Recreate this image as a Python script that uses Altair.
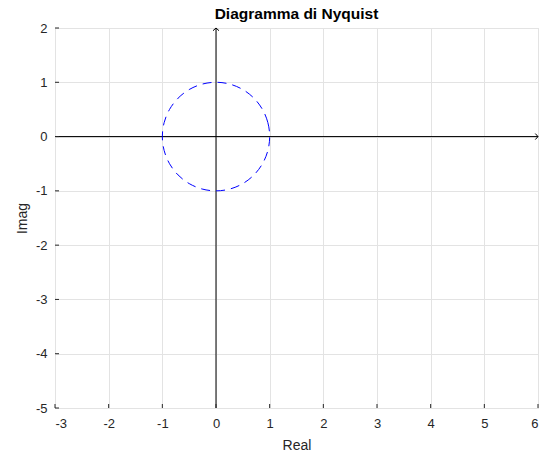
import altair as alt
import pandas as pd

# Nyquist locus (unit circle), sampled every 15 degrees
re_vals = [1.0, 0.966, 0.866, 0.707, 0.5, 0.259, 0.0, -0.259, -0.5, -0.707, -0.866, -0.966,
           -1.0, -0.966, -0.866, -0.707, -0.5, -0.259, 0.0, 0.259, 0.5, 0.707, 0.866, 0.966]
im_vals = [0.0, 0.259, 0.5, 0.707, 0.866, 0.966, 1.0, 0.966, 0.866, 0.707, 0.5, 0.259,
           0.0, -0.259, -0.5, -0.707, -0.866, -0.966, -1.0, -0.966, -0.866, -0.707, -0.5, -0.259]

x_ticks = [-3, -2, -1, 0, 1, 2, 3, 4, 5, 6]
y_ticks = [-5, -4, -3, -2, -1, 0, 1, 2]
x_range = [-3, 6]
y_range = [-5, 2]

W, H = 483, 380
FONT = "Liberation Sans"
INK = "#262626"

xs = alt.Scale(domain=x_range, nice=False, zero=False)
ys = alt.Scale(domain=y_range, nice=False, zero=False)

# plain hyphen-minus in the tick labels
LABEL = "'' + datum.value"

x_axis = alt.Axis(values=x_ticks, grid=True, gridColor="#e3e3e3", ticks=False, domain=False,
                  labelFont=FONT, labelFontSize=13, labelColor=INK, labelPadding=9, labelExpr=LABEL,
                  titleFont=FONT, titleFontSize=14, titleFontWeight="normal",
                  titleColor=INK, titlePadding=8)
y_axis = alt.Axis(values=y_ticks, grid=True, gridColor="#e3e3e3", ticks=False, domain=False,
                  labelFont=FONT, labelFontSize=13, labelColor=INK, labelPadding=8, labelExpr=LABEL,
                  titleFont=FONT, titleFontSize=14, titleFontWeight="normal",
                  titleColor=INK, titlePadding=6)


def X():
    return alt.X("re:Q", scale=xs, title="Real", axis=x_axis)


def Y():
    return alt.Y("im:Q", scale=ys, title="Imag", axis=y_axis)


locus = pd.DataFrame({"re": re_vals, "im": im_vals, "k": list(range(len(re_vals)))})
xt = pd.DataFrame({"re": x_ticks})
yt = pd.DataFrame({"im": y_ticks})

# inward tick marks along the bottom and left edges
x_tickmarks = alt.Chart(xt).mark_rule(color=INK, strokeWidth=1).encode(
    x=X(), y=alt.value(H), y2=alt.value(H - 4))
y_tickmarks = alt.Chart(yt).mark_rule(color=INK, strokeWidth=1).encode(
    y=Y(), x=alt.value(0), x2=alt.value(4))

# real and imaginary axes through the origin, spanning the whole plot
real_axis = alt.Chart(pd.DataFrame({"im": [0]})).mark_rule(color="black", strokeWidth=1).encode(y=Y())
imag_axis = alt.Chart(pd.DataFrame({"re": [0]})).mark_rule(color="black", strokeWidth=1).encode(x=X())

# arrow heads at the ends of the axes
up_head = alt.Chart(pd.DataFrame({"re": [0], "im": [y_range[1]]})).mark_point(
    shape="M-1,0.9L0,0L1,0.9", size=36, color="black", filled=False, strokeWidth=1, opacity=1).encode(
    x=X(), y=Y())
right_head = alt.Chart(pd.DataFrame({"re": [x_range[1]], "im": [0]})).mark_point(
    shape="M-0.9,-1L0,0L-0.9,1", size=36, color="black", filled=False, strokeWidth=1, opacity=1).encode(
    x=X(), y=Y())

circle = alt.Chart(locus).mark_line(
    color="#0000ff", strokeWidth=1, strokeDash=[9, 6], interpolate="cardinal-closed").encode(
    x=X(), y=Y(), order="k:Q")

chart = alt.layer(real_axis, imag_axis, x_tickmarks, y_tickmarks, circle, up_head, right_head).properties(
    width=W, height=H,
    title=alt.TitleParams("Diagramma di Nyquist", font=FONT, fontSize=15.5, fontWeight="bold",
                          color="black", anchor="middle", frame="group", offset=7, dy=7),
    autosize=alt.AutoSizeParams(type="none"),
    padding={"left": 55, "top": 28, "right": 8, "bottom": 47},
).configure_view(stroke=INK, strokeWidth=1).configure(background="white")

chart.save("out.html", embed_options={"renderer": "svg", "actions": False})
